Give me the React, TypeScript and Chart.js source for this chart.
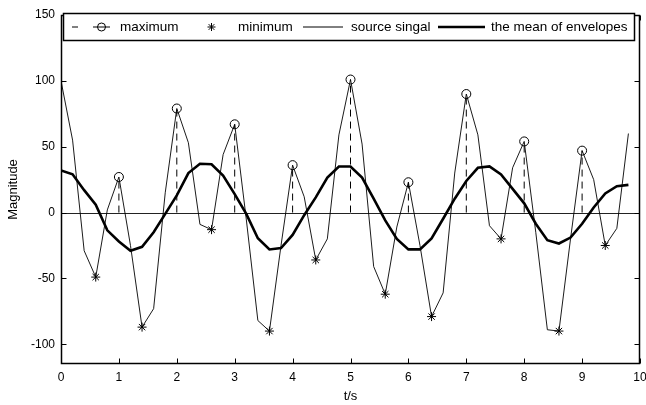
import React, { useEffect, useRef } from "react";
import { Chart, registerables } from "chart.js";

Chart.register(...registerables);

const times = [
  0, 0.2, 0.4, 0.6, 0.8, 1.0, 1.2, 1.4, 1.6, 1.8,
  2.0, 2.2, 2.4, 2.6, 2.8, 3.0, 3.2, 3.4, 3.6, 3.8,
  4.0, 4.2, 4.4, 4.6, 4.8, 5.0, 5.2, 5.4, 5.6, 5.8,
  6.0, 6.2, 6.4, 6.6, 6.8, 7.0, 7.2, 7.4, 7.6, 7.8,
  8.0, 8.2, 8.4, 8.6, 8.8, 9.0, 9.2, 9.4, 9.6, 9.8,
];
const sourceSignal = [
  100, 55, -29, -49, 2, 27, -25, -87, -73, 15,
  79, 53, -9, -13, 44, 67, -5, -82, -90, -25,
  36, 12, -36, -20, 59, 101, 52, -41, -62, -11,
  23, -25, -79, -61, 30, 90, 59, -10, -20, 34,
  54, -15, -89, -90, -20, 47, 25, -25, -12, 60,
];
const meanOfEnvelopes = [
  32, 29, 17, 6, -13.5, -22, -29, -26, -15, -1,
  13, 30, 37, 36.7, 28, 14, -1, -19.5, -28, -27,
  -17, -2, 11.5, 26.5, 35, 35, 26.5, 10.5, -6, -20,
  -28, -28, -19.7, -4.7, 10.5, 24, 34, 35, 29, 18,
  7, -8.5, -21, -23.5, -19, -8.5, 3.8, 14.5, 20, 21,
];
const maxTimes = [1, 2, 3, 4, 5, 6, 7, 8, 9];
const maxValues = [27, 79, 67, 36, 101, 23, 90, 54, 47];
const minTimes = [0.6, 1.4, 2.6, 3.6, 4.4, 5.6, 6.4, 7.6, 8.6, 9.4];
const minValues = [-49, -87, -13, -90, -36, -62, -79, -20, -90, -25];
const xTicks = [0, 1, 2, 3, 4, 5, 6, 7, 8, 9, 10];
const yTicks = [-100, -50, 0, 50, 100, 150];
const legendLabels = ["maximum", "minimum", "source singal", "the mean of envelopes"];
const xTitle = "t/s";
const yTitle = "Magnitude";

const FONT = "'Liberation Sans', Arial, Helvetica, sans-serif";

const framePlugin = {
  id: "frame",
  beforeDatasetsDraw(chart: any) {
    const { ctx, chartArea: a, scales } = chart;
    const y0 = Math.round(scales.y.getPixelForValue(0)) + 0.5;
    ctx.save();
    ctx.strokeStyle = "#222";
    ctx.lineWidth = 1;
    ctx.beginPath();
    ctx.moveTo(a.left, y0);
    ctx.lineTo(a.right, y0);
    ctx.stroke();
    ctx.restore();
  },
  afterDraw(chart: any) {
    const { ctx, chartArea: a, scales } = chart;
    ctx.save();
    ctx.strokeStyle = "#000";
    ctx.lineWidth = 1.5;
    const L = Math.round(a.left) + 0.5;
    const R = Math.round(a.right) - 0.5;
    const T = Math.round(a.top) + 0.5;
    const B = Math.round(a.bottom) - 0.5;
    ctx.strokeRect(L, T, R - L, B - T);
    ctx.lineWidth = 1;
    ctx.beginPath();
    for (const v of xTicks) {
      const px = Math.round(scales.x.getPixelForValue(v)) + 0.5;
      ctx.moveTo(px, B);
      ctx.lineTo(px, B - 5);
      ctx.moveTo(px, T);
      ctx.lineTo(px, T + 5);
    }
    for (const v of yTicks) {
      const py = Math.round(scales.y.getPixelForValue(v)) + 0.5;
      ctx.moveTo(L, py);
      ctx.lineTo(L + 5, py);
      ctx.moveTo(R, py);
      ctx.lineTo(R - 5, py);
    }
    ctx.stroke();

    // legend
    const lx = 63.5, ly = 13.5, lw = 571, lh = 27;
    ctx.fillStyle = "#fff";
    ctx.fillRect(lx, ly, lw, lh);
    ctx.lineWidth = 1.5;
    ctx.strokeRect(lx, ly, lw, lh);
    ctx.lineWidth = 1;
    const cy = ly + lh / 2;
    ctx.fillStyle = "#000";
    ctx.font = `13.5px ${FONT}`;
    ctx.textBaseline = "middle";
    ctx.textAlign = "left";
    // maximum: dashed line with circle
    ctx.beginPath();
    ctx.moveTo(72, cy);
    ctx.lineTo(78, cy);
    ctx.moveTo(93, cy);
    ctx.lineTo(110, cy);
    ctx.stroke();
    ctx.beginPath();
    ctx.arc(101.5, cy, 4, 0, Math.PI * 2);
    ctx.stroke();
    ctx.fillText(legendLabels[0], 120, cy);
    // minimum: star
    ctx.beginPath();
    const sx = 211.5, r = 4;
    for (let k = 0; k < 4; k++) {
      const ang = (k * Math.PI) / 4;
      ctx.moveTo(sx - r * Math.cos(ang), cy - r * Math.sin(ang));
      ctx.lineTo(sx + r * Math.cos(ang), cy + r * Math.sin(ang));
    }
    ctx.stroke();
    ctx.fillText(legendLabels[1], 238, cy);
    // source signal
    ctx.beginPath();
    ctx.moveTo(303, cy);
    ctx.lineTo(343, cy);
    ctx.stroke();
    ctx.fillText(legendLabels[2], 351, cy);
    // mean
    ctx.lineWidth = 2.5;
    ctx.beginPath();
    ctx.moveTo(438, cy);
    ctx.lineTo(485, cy);
    ctx.stroke();
    ctx.fillText(legendLabels[3], 491, cy);
    ctx.restore();
  },
};

export default function App() {
  const ref = useRef<HTMLCanvasElement | null>(null);
  useEffect(() => {
    if (!ref.current) return;
    const stems: any[] = [];
    maxTimes.forEach((t, i) => {
      stems.push({ x: t, y: 0 }, { x: t, y: maxValues[i] }, { x: t, y: null });
    });
    const chart = new Chart(ref.current, {
      type: "line",
      data: {
        datasets: [
          {
            label: "stems",
            data: stems,
            borderColor: "#000",
            borderWidth: 1,
            borderDash: [7, 5],
            pointRadius: 0,
            spanGaps: false,
          },
          {
            label: legendLabels[2],
            data: times.map((t, i) => ({ x: t, y: sourceSignal[i] })),
            borderColor: "#000",
            borderWidth: 0.9,
            pointRadius: 0,
          },
          {
            label: legendLabels[3],
            data: times.map((t, i) => ({ x: t, y: meanOfEnvelopes[i] })),
            borderColor: "#000",
            borderWidth: 2.6,
            pointRadius: 0,
          },
          {
            label: legendLabels[0],
            data: maxTimes.map((t, i) => ({ x: t, y: maxValues[i] })),
            showLine: false,
            pointStyle: "circle",
            pointRadius: 4.5,
            pointBorderColor: "#000",
            pointBackgroundColor: "rgba(0,0,0,0)",
            pointBorderWidth: 1,
          },
          {
            label: legendLabels[1],
            data: minTimes.map((t, i) => ({ x: t, y: minValues[i] })),
            showLine: false,
            pointStyle: "star",
            pointRadius: 4.5,
            pointBorderColor: "#000",
            pointBackgroundColor: "#000",
            pointBorderWidth: 1,
          },
        ],
      },
      options: {
        animation: false,
        responsive: false,
        events: [],
        layout: { padding: { left: 0, top: 15, right: 6, bottom: 0 } },
        plugins: { legend: { display: false }, tooltip: { enabled: false } },
        scales: {
          x: {
            type: "linear",
            min: 0,
            max: 10,
            afterBuildTicks: (s: any) => {
              s.ticks = xTicks.map((v) => ({ value: v }));
            },
            afterFit: (s: any) => {
              s.height = 41;
              s.paddingLeft = 0;
              s.paddingRight = 0;
            },
            grid: { display: false, drawTicks: false },
            border: { display: false },
            ticks: {
              color: "#000",
              font: { family: FONT, size: 12 },
              padding: 6,
              maxRotation: 0,
              autoSkip: false,
            },
            title: {
              display: true,
              text: xTitle,
              color: "#000",
              font: { family: FONT, size: 13 },
              padding: { top: 0, bottom: 1 },
            },
          },
          y: {
            type: "linear",
            min: -115,
            max: 150,
            afterBuildTicks: (s: any) => {
              s.ticks = yTicks.map((v) => ({ value: v }));
            },
            afterFit: (s: any) => {
              s.width = 61;
              s.paddingTop = 0;
              s.paddingBottom = 0;
            },
            grid: { display: false, drawTicks: false },
            border: { display: false },
            ticks: {
              color: "#000",
              font: { family: FONT, size: 12 },
              padding: 6,
              autoSkip: false,
            },
            title: {
              display: true,
              text: yTitle,
              color: "#000",
              font: { family: FONT, size: 13 },
              padding: { top: 6, bottom: 0 },
            },
          },
        },
      },
      plugins: [framePlugin],
    } as any);
    return () => chart.destroy();
  }, []);
  return (
    <div style={{ position: "absolute", left: 0, top: 0, width: 646, height: 405, background: "#fff" }}>
      <canvas ref={ref} width={646} height={405} style={{ display: "block" }} />
    </div>
  );
}
